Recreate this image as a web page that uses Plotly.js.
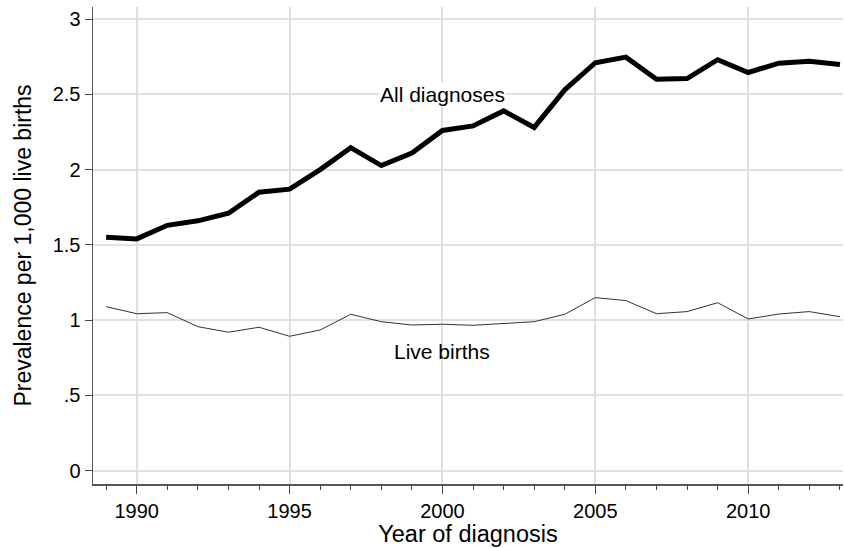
<!DOCTYPE html>
<html><head><meta charset="utf-8">
<script src="https://cdn.plot.ly/plotly-3.0.1.min.js"></script>
<style>html,body{margin:0;padding:0;background:#fff}#chart{width:844px;height:548px}</style>
</head><body><div id="chart"></div>
<script>
var years = [1989,1990,1991,1992,1993,1994,1995,1996,1997,1998,1999,2000,2001,2002,2003,2004,2005,2006,2007,2008,2009,2010,2011,2012,2013];
var allDiagnoses = [1.55,1.54,1.63,1.66,1.71,1.85,1.87,2.0,2.146,2.027,2.11,2.26,2.29,2.39,2.28,2.53,2.71,2.747,2.60,2.605,2.73,2.645,2.707,2.72,2.698];
var liveBirths = [1.09,1.043,1.05,0.957,0.92,0.953,0.893,0.935,1.039,0.99,0.968,0.973,0.966,0.979,0.99,1.039,1.15,1.13,1.043,1.057,1.116,1.008,1.041,1.057,1.023];
var yTickVals = [0,0.5,1,1.5,2,2.5,3];
var yTickText = ['0','.5','1','1.5','2','2.5','3'];
var xTickVals = [1990,1995,2000,2005,2010];

var font = 'Liberation Sans, Arial, sans-serif';
var traces = [
  {x: years, y: allDiagnoses, mode: 'lines', line: {color: '#000', width: 5}, hoverinfo: 'skip'},
  {x: years, y: liveBirths, mode: 'lines', line: {color: '#333', width: 1}, hoverinfo: 'skip'}
];
var layout = {
  width: 844, height: 548,
  margin: {l: 93, r: 1, t: 7, b: 64},
  paper_bgcolor: '#fff', plot_bgcolor: '#fff',
  showlegend: false,
  font: {family: font, color: '#000'},
  xaxis: {
    range: [1988.57, 2013.1],
    tickvals: xTickVals,
    ticks: 'outside', ticklen: 8, tickwidth: 1, tickcolor: '#444',
    tickfont: {size: 20, family: font, color: '#000'},
    showgrid: true, gridcolor: '#e0e0e0', gridwidth: 2,
    showline: true, linecolor: '#555', linewidth: 1.5,
    zeroline: false,
    minor: {dtick: 1, tick0: 1989, ticks: 'outside', ticklen: 4, tickcolor: '#444', tickwidth: 1, showgrid: false},
    title: {text: 'Year of diagnosis', font: {size: 23.5, family: font, color: '#000'}, standoff: 4}
  },
  yaxis: {
    range: [-0.088, 3.08],
    tickvals: yTickVals, ticktext: yTickText,
    ticks: 'outside', ticklen: 7, tickwidth: 1, tickcolor: '#444',
    tickfont: {size: 20, family: font, color: '#000'},
    showgrid: true, gridcolor: '#e0e0e0', gridwidth: 2,
    showline: true, linecolor: '#555', linewidth: 1.5,
    zeroline: false,
    title: {text: 'Prevalence per 1,000 live births', font: {size: 23, family: font, color: '#000'}, standoff: 14}
  },
  annotations: [
    {x: 2000, y: 2.5, xref: 'x', yref: 'y', text: 'All diagnoses', showarrow: false, bgcolor: '#fff', font: {size: 21, family: font, color: '#000'}, borderpad: 0},
    {x: 2000, y: 0.795, xref: 'x', yref: 'y', text: 'Live births', showarrow: false, font: {size: 21, family: font, color: '#000'}}
  ]
};
Plotly.newPlot('chart', traces, layout, {displayModeBar: false, staticPlot: true});
</script></body></html>
